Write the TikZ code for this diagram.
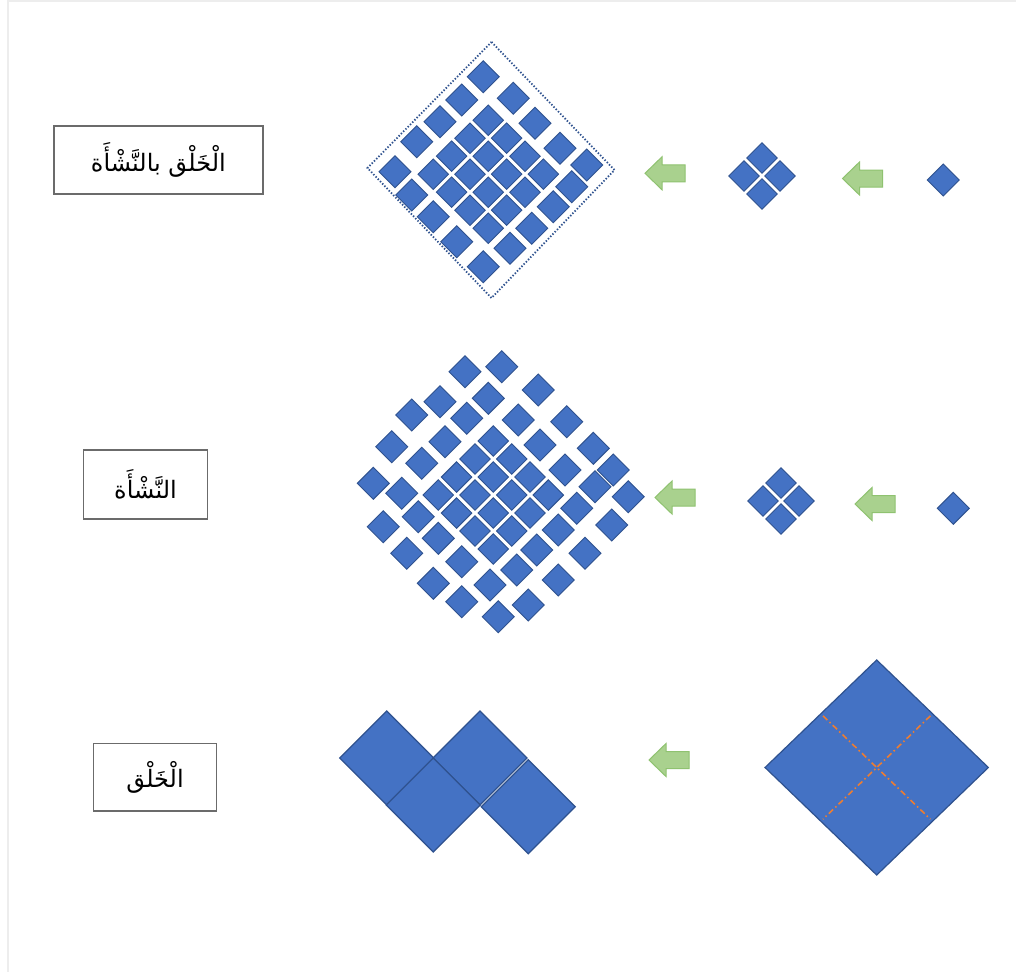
\documentclass[tikz,border=0pt]{standalone}
\usepackage{fontspec}
\usetikzlibrary{shapes.geometric,calc}
\newfontfamily\arabicfont[Script=Arabic]{DejaVu Sans}
\TeXXeTstate=1
\definecolor{sqfill}{HTML}{4472C4}
\definecolor{sqline}{HTML}{2F528F}
\definecolor{arrfill}{HTML}{A9D18E}
\definecolor{arrline}{HTML}{8FC270}
\definecolor{boxline}{HTML}{6B6B6B}
\definecolor{cutline}{HTML}{ED7D31}
\definecolor{framegray}{HTML}{EDEDED}
\newcommand\greenarrowat[1]{\draw[greenarrow, shift={#1}] (-20,0) -- (-3,-16.5) -- (-3,-8.5) -- (20,-8.5) -- (20,8.5) -- (-3,8.5) -- (-3,16.5) -- cycle;}
\begin{document}
\begin{tikzpicture}[x=1pt,y=-1pt,
 sq/.style={diamond, aspect=1, inner sep=0pt, outer sep=0pt, minimum size=32pt, fill=sqfill, draw=sqline, line width=0.9pt},
 coresq/.style={sq, minimum size=30.5pt},
 bigsq/.style={sq, minimum size=94pt, line width=1.2pt},
 namebox/.style={draw=boxline, line width=1.5pt, fill=white, inner sep=0pt, text=black, font=\arabicfont\fontsize{24}{28}\selectfont},
 greenarrow/.style={fill=arrfill, draw=arrline, line width=1pt, line join=miter},
 cutstyle/.style={draw=cutline, line width=1.6pt, dash pattern=on 6pt off 3pt on 1.5pt off 3pt, shorten <=3pt, shorten >=3pt},
 dotframe/.style={draw=sqline, line width=1.8pt, dash pattern=on 1.4pt off 1.8pt}]
\useasboundingbox (0,0) rectangle (1016,972);
\fill[white] (0,0) rectangle (1016,972);
\draw[framegray, line width=1.5pt] (8,0) -- (8,972);
\draw[framegray, line width=1.5pt] (8,1) -- (1016,1);

% ---------- labels ----------
\node[namebox, minimum width=208.7pt, minimum height=68pt] (lab1) at (158.4,160) {\beginR الْخَلْق بالنَّشْأَة\endR};
\node[namebox, minimum width=124.4pt, minimum height=69pt] (lab2) at (145.5,484.5) {\beginR النَّشْأَة\endR};
\node[namebox, minimum width=123.4pt, minimum height=67.7pt] (lab3) at (155,777.2) {\beginR الْخَلْق\endR};

% ---------- top row ----------
\draw[dotframe] (491.5,42) -- (614.5,170) -- (491.5,298) -- (367.5,168) -- cycle;
\foreach \i in {0,...,3}{\foreach \j in {0,...,3}{
  \node[coresq] (tc\i\j) at ({488.3+(\i+\j-3)*18.35},{174.2+(\i-\j)*18}) {};}}
\foreach \p [count=\k] in {(483.3,76.7),(461.7,100),(440,121.7),(416.7,141.7),(395,171.7),(513.3,98.3),(535,123.3),(560,148.3),(586.7,165),(411.7,195),(571.7,186.7),(433.3,216.7),(553.3,206.7),(456.7,241.7),(531.7,228.3),(510,248.3),(483.3,266.7)}
  \node[sq] (to\k) at \p {};
\greenarrowat{(665,173.3)}
\node[coresq] (tq1) at (762,158) {};
\node[coresq] (tq2) at (744,176) {};
\node[coresq] (tq3) at (780,176) {};
\node[coresq] (tq4) at (762,194) {};
\greenarrowat{(862.5,178.5)}
\node[sq] (ts) at (943.3,180) {};

% ---------- middle row ----------
\foreach \i in {0,...,3}{\foreach \j in {0,...,3}{
  \node[coresq] (mc\i\j) at ({493.3+(\i+\j-3)*18.35},{495+(\i-\j)*18}) {};}}
\foreach \p [count=\k] in {(465,371.7),(501.7,366.7),(538.3,390),(440,401.7),(488.3,398.3),(411.7,415),(466.7,418.3),(518.3,420),(566.7,421.7),(445,441.7),(540,445),
 (593.3,448.3),(613.3,470),(565,470),(595,486.7),(628.3,496.7),(576.7,508.3),(611.7,525),(585,553.3),(558.3,580),(536.7,550),(528.3,605),(558.3,530),
 (391.7,446.7),(421.7,463.3),(373.3,483.3),(401.7,493.3),(383.3,526.7),(418.3,516.7),(406.7,553.3),(438.3,538.3),(433.3,583.3),(461.7,561.7),(461.7,601.7),(490,585),(498.3,616.7),(516.7,570)}
  \node[sq] (mo\k) at \p {};
\greenarrowat{(675,497.5)}
\node[coresq] (mq1) at (781,483) {};
\node[coresq] (mq2) at (763,501) {};
\node[coresq] (mq3) at (799,501) {};
\node[coresq] (mq4) at (781,519) {};
\greenarrowat{(875,504)}
\node[sq] (ms) at (953.3,508.3) {};

% ---------- bottom row ----------
\node[bigsq] (b1) at (386.7,758) {};
\node[bigsq] (b2) at (480,758) {};
\node[bigsq] (b3) at (433.3,805) {};
\node[bigsq] (b4) at (528.3,806.7) {};
\greenarrowat{(669,760)}
\node[diamond, inner sep=0pt, outer sep=0pt, minimum width=223.3pt, minimum height=215pt, fill=sqfill, draw=sqline, line width=1.2pt] (big) at (876.7,767.5) {};
\draw[cutstyle] ($(big.north)!0.5!(big.west)$) -- ($(big.south)!0.5!(big.east)$);
\draw[cutstyle] ($(big.north)!0.5!(big.east)$) -- ($(big.south)!0.5!(big.west)$);
\end{tikzpicture}
\end{document}
